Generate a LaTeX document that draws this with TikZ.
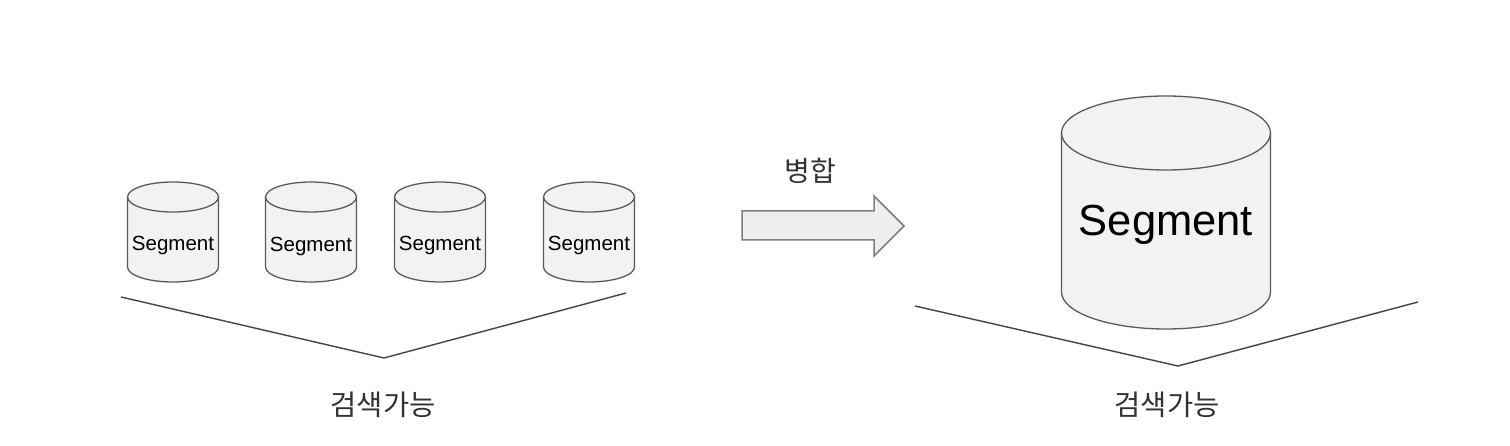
\documentclass[tikz,border=0pt]{standalone}
\usepackage{fontspec}
\setmainfont{Liberation Sans}
\newfontfamily\krfont{Noto Sans CJK KR}
\definecolor{cylfill}{HTML}{F2F2F2}
\definecolor{cylline}{HTML}{5A5A5A}
\definecolor{arrfill}{HTML}{EEEEEE}
\definecolor{arrline}{HTML}{7F7F7F}
\definecolor{vline}{HTML}{444444}
\tikzset{
  cylshape/.style={fill=cylfill, draw=cylline, line width=1.3pt, line join=round},
  cyltext/.style={inner sep=0pt, text=black},
  bigarrow/.style={fill=arrfill, draw=arrline, line width=1.5pt, line join=miter},
  bracket/.style={draw=vline, line width=1.4pt, line join=miter},
  krlabel/.style={inner sep=0pt, text=black!80, font=\krfont\fontsize{28.5}{32}\selectfont},
}
% #1 name, #2 cx, #3 top y, #4 width, #5 height, #6 ry, #7 font size, #8 text y
\newcommand\mycyl[8]{%
  \pgfmathsetmacro\cx{#2}\pgfmathsetmacro\rx{#4/2}%
  \pgfmathsetmacro\yt{#3+#6}\pgfmathsetmacro\yb{#3+#5-#6}%
  \path[cylshape] (\cx-\rx,\yt) -- (\cx-\rx,\yb)
     arc[start angle=180, end angle=0, x radius=\rx, y radius=#6]
     -- (\cx+\rx,\yt)
     arc[start angle=0, end angle=-180, x radius=\rx, y radius=#6] -- cycle;
  \draw[cylshape, fill=none] (\cx+\rx,\yt)
     arc[start angle=0, end angle=180, x radius=\rx, y radius=#6];
  \node[cyltext, font=\fontsize{#7}{#7}\selectfont] (#1) at (\cx,#8) {Segment};
}
\begin{document}
\begin{tikzpicture}[x=1pt,y=-1pt]
\useasboundingbox[fill=white] (0,0) rectangle (1510,446);
% small cylinders
\mycyl{s1}{173}{182}{91}{100}{15}{20.5}{245}
\mycyl{s2}{311}{182}{91}{100}{15}{20.5}{246}
\mycyl{s3}{440}{182}{91}{100}{15}{20.5}{245}
\mycyl{s4}{589}{182}{91}{100}{15}{20.5}{245}
% left bracket
\coordinate (la) at (121,297);
\coordinate (lv) at (384,358);
\coordinate (lb) at (626,293);
\draw[bracket] (la) -- (lv) -- (lb);
\node[krlabel] (lsearch) at (383,405) {검색가능};
% merge arrow
\path[bigarrow] (742,211) -- (874,211) -- (874,196) -- (904,226) -- (874,256) -- (874,240) -- (742,240) -- cycle;
\node[krlabel, font=\krfont\fontsize{28}{32}\selectfont] (merge) at (810,171) {병합};
% big cylinder
\mycyl{big}{1166}{96}{209}{233}{37}{43.5}{225}
% right bracket
\coordinate (ra) at (915,306);
\coordinate (rv) at (1178,366);
\coordinate (rb) at (1418,302);
\draw[bracket] (ra) -- (rv) -- (rb);
\node[krlabel] (rsearch) at (1167,405) {검색가능};
\end{tikzpicture}
\end{document}
